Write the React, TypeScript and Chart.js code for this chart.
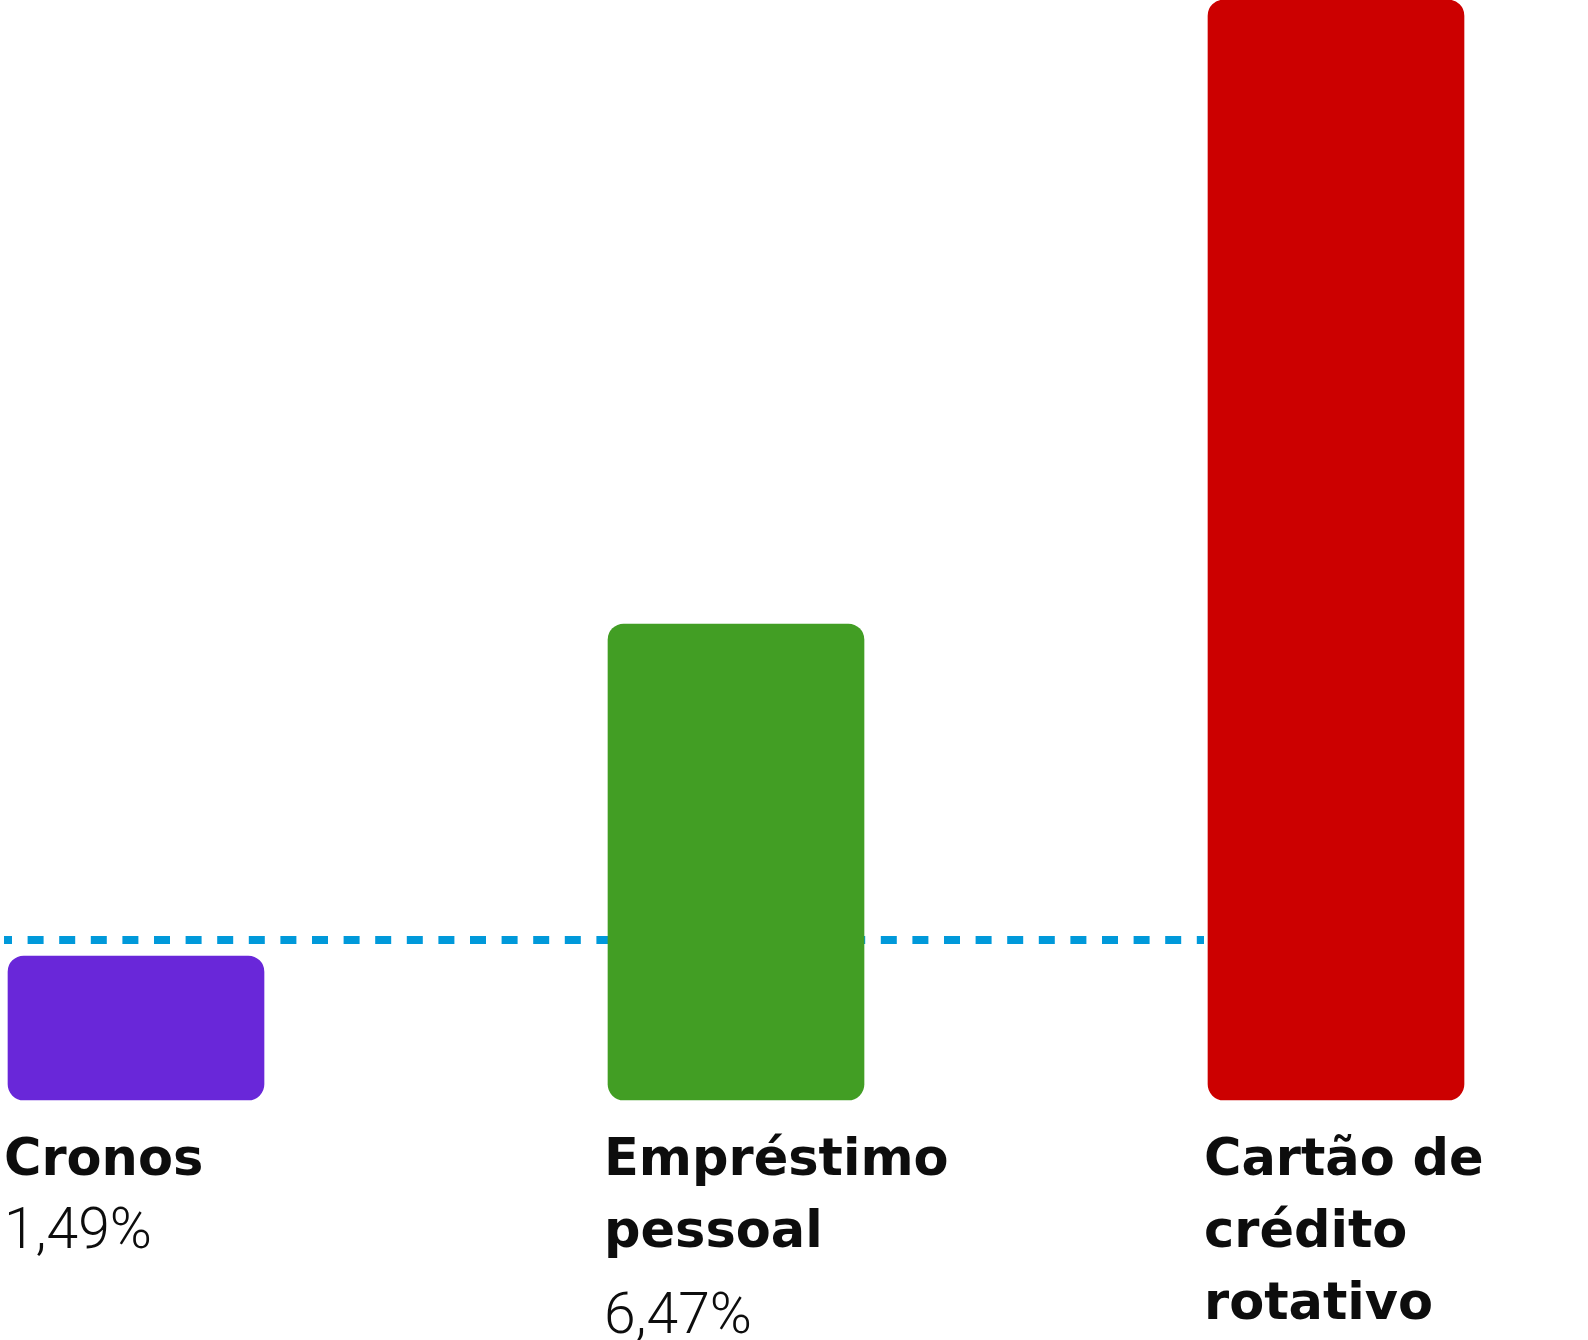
import React, { useEffect, useRef } from "react";
import { Chart, registerables } from "chart.js";

Chart.register(...registerables);

// ---- Data ----
const categories = ["Cronos", "Empréstimo pessoal", "Cartão de crédito rotativo"];
const categoryLines = [["Cronos"], ["Empréstimo", "pessoal"], ["Cartão de", "crédito", "rotativo"]];
const rates = [1.49, 6.47, 15.83];
const showRate = [true, true, false];
const axisMin = -0.67;
const axisMax = 15.83;
const referenceRate = 1.73;
const barColors = ["#6927D9", "#429E24", "#CC0000"];

const formatRate = (v: number) => v.toFixed(2).replace(".", ",") + "%";

const overlayPlugin = {
  id: "overlay",
  beforeDatasetsDraw(chart: any) {
    const { ctx } = chart;
    const meta = chart.getDatasetMeta(0);
    const y = chart.scales.y.getPixelForValue(referenceRate);
    const first = meta.data[0] as any;
    const last = meta.data[meta.data.length - 1] as any;
    const x0 = first.x - first.width / 2 - 4;
    const x1 = last.x - last.width / 2 - 4;
    ctx.save();
    ctx.strokeStyle = "#0099DA";
    ctx.lineWidth = 8;
    ctx.lineCap = "butt";
    ctx.setLineDash([16, 15.6]);
    ctx.lineDashOffset = 8;
    ctx.beginPath();
    ctx.moveTo(x0, y);
    ctx.lineTo(x1, y);
    ctx.stroke();
    ctx.restore();
  },
  afterDraw(chart: any) {
    const { ctx, chartArea } = chart;
    const meta = chart.getDatasetMeta(0);
    ctx.save();
    ctx.fillStyle = "#0d0d0d";
    ctx.textAlign = "left";
    ctx.textBaseline = "alphabetic";
    meta.data.forEach((el: any, i: number) => {
      const x = el.x - el.width / 2 - 4;
      const lines = categoryLines[i];
      let baseline = chartArea.bottom + 75;
      ctx.font = "bold 51px 'DejaVu Sans'";
      lines.forEach((ln: string, j: number) => {
        ctx.fillText(ln, x, baseline + j * 72);
      });
      const lastBase = baseline + (lines.length - 1) * 72;
      if (showRate[i]) {
        ctx.font = "300 57px Roboto";
        ctx.fillText(formatRate(rates[i]), x, lastBase + (lines.length === 1 ? 73 : 86));
      }
    });
    ctx.restore();
  },
};

export default function App() {
  const ref = useRef<HTMLCanvasElement>(null);

  useEffect(() => {
    document.body.style.margin = "0";
    document.body.style.overflow = "hidden";
    const chart = new Chart(ref.current as HTMLCanvasElement, {
      type: "bar",
      data: {
        labels: categories,
        datasets: [
          {
            data: rates,
            backgroundColor: barColors,
            borderRadius: 16,
            borderSkipped: false,
            borderWidth: 0,
            barThickness: 256,
            base: axisMin,
            clip: false,
          } as any,
        ],
      },
      options: {
        responsive: false,
        devicePixelRatio: 1,
        animation: false,
        layout: { padding: { left: 136, right: 252, top: 0, bottom: 240 } },
        plugins: {
          legend: { display: false },
          tooltip: { enabled: false },
        },
        scales: {
          x: { display: false, offset: false },
          y: { display: false, min: axisMin, max: axisMax },
        },
      },
      plugins: [overlayPlugin],
    });
    return () => chart.destroy();
  }, []);

  return (
    <div style={{ position: "absolute", left: 0, top: 0, width: 1588, height: 1340, background: "#fff" }}>
      <canvas ref={ref} width={1588} height={1340} style={{ display: "block" }} />
    </div>
  );
}
